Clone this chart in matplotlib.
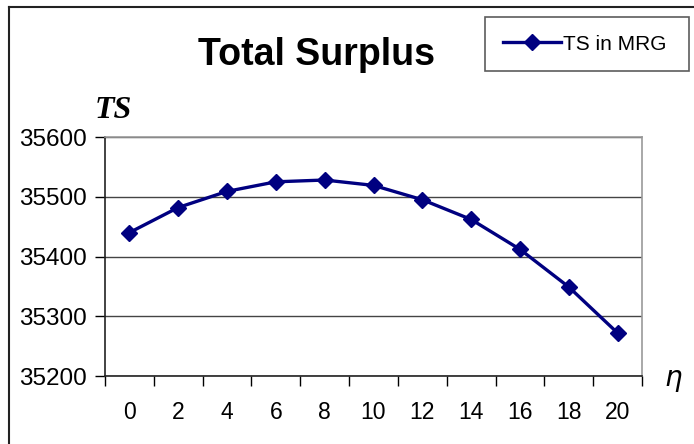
import matplotlib.pyplot as plt
from matplotlib.lines import Line2D

# data
eta = ['0', '2', '4', '6', '8', '10', '12', '14', '16', '18', '20']
ts_mrg = [35440, 35482, 35509, 35525, 35528, 35519, 35495, 35462, 35412, 35349, 35272]
y_ticks = [35200, 35300, 35400, 35500, 35600]

plt.rcParams['font.family'] = ['Liberation Sans', 'DejaVu Sans']

fig = plt.figure(figsize=(6.94, 4.44), dpi=100)
ax = fig.add_axes([105/694, 1-376/444, 537/694, 239/444])

x = list(range(len(eta)))
ax.plot(x, ts_mrg, color='#000080', lw=2.4, marker='D', ms=8, label='TS in MRG', zorder=3)

ax.set_xlim(-0.5, len(eta) - 0.5)
ax.set_ylim(35200, 35600)
ax.set_yticks(y_ticks)
ax.set_yticklabels([str(v) for v in y_ticks], fontsize=17.5)
ax.set_xticks(x)
ax.set_xticklabels(eta, fontsize=16.5)
ax.tick_params(axis='x', length=0, pad=18)
# category axis: ticks sit between the categories
ax.set_xticks([i - 0.5 for i in range(len(eta) + 1)], minor=True)
ax.tick_params(axis='x', which='minor', length=7, width=1, direction='out')
ax.tick_params(axis='y', length=7, width=1, direction='out', pad=6)

ax.grid(axis='y', color='#444444', lw=1)
ax.set_axisbelow(True)
for s in ['left', 'bottom']:
    ax.spines[s].set_color('#222222')
    ax.spines[s].set_linewidth(1.2)
for s in ['top', 'right']:
    ax.spines[s].set_color('#999999')
    ax.spines[s].set_linewidth(1.2)

# title and axis symbols
fig.text(317/694, 1-55/444, 'Total Surplus', fontsize=27, fontweight='bold',
         ha='center', va='center')
fig.text(113/694, 1-110/444, 'TS', family='Liberation Serif', style='italic',
         fontweight='bold', fontsize=23, ha='center', va='center')
fig.text(673/694, 1-381/444, r'$\eta$', fontsize=20, ha='center', va='center')

# legend box
leg = ax.legend(loc='upper left', bbox_to_anchor=(485/694, 1-73/444, 204/694, 56/444),
                bbox_transform=fig.transFigure, mode='expand', fontsize=15,
                frameon=True, fancybox=False, handlelength=2.8, handletextpad=0.1,
                borderaxespad=0, borderpad=0.85)
leg.get_frame().set_edgecolor('#333333')
leg.get_frame().set_linewidth(1.2)

# outer chart frame
fig.add_artist(Line2D([9/694, 9/694], [0, 1-7.5/444], color='#222222', lw=1.5))
fig.add_artist(Line2D([9/694, 1], [1-7.5/444, 1-7.5/444], color='#222222', lw=1.5))

fig.savefig('out.png', dpi=100)
